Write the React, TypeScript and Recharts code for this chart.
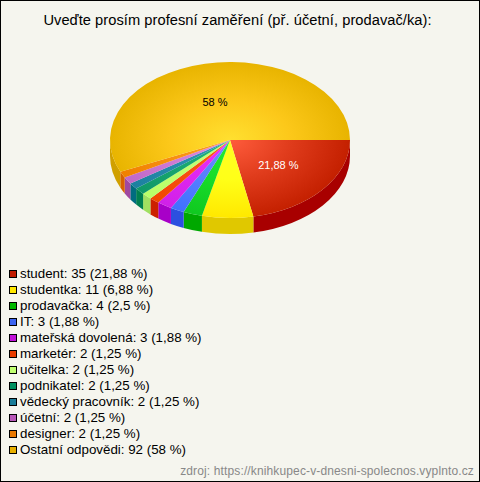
import React from "react";
import { PieChart, Pie, Legend } from "recharts";

const categories = ["student","studentka","prodavačka","IT","mateřská dovolená","marketér","učitelka","podnikatel","vědecký pracovník","účetní","designer","Ostatní odpovědi"];
const counts = [35,11,4,3,3,2,2,2,2,2,2,92];
const percentLabels = ["21,88","6,88","2,5","1,88","1,88","1,25","1,25","1,25","1,25","1,25","1,25","58"];
const sliceShares = [21.88,6.88,2.55,1.88,2.0,1.35,1.35,1.4,1.3,1.45,1.3,56.66];
const swatchColors = ["#c21c00","#ffe800","#00b800","#3c64f0","#c010d8","#e83c00","#c0ff70","#009060","#1a7c98","#b858b8","#e87800","#e8b000"];
const innerColors = ["#ff5c3c","#ffff24","#22ee33","#6a90ff","#f030f8","#ff5a14","#c8ff78","#22b878","#3498b8","#e090e0","#ffa020","#ffe030"];
const midColors = ["#e03c1c","#ffff18","#18dc2a","#5880ff","#e028f0","#f85010","#c0ff70","#18a870","#288cac","#d07cd4","#f89010","#fcc81a"];
const outerColors = ["#c42000","#ffe800","#10c820","#4070ff","#d020e8","#f04800","#b8ff68","#109868","#1c80a0","#c068c8","#f08000","#e8b400"];
const sideColors = ["#a80000","#e0c800","#00a800","#2c50e0","#a800c8","#cc2000","#a0e060","#008050","#006c80","#a048a0","#d86000","#d0a000"];

const rows = categories.map((name, i) => ({
  name, count: counts[i], share: sliceShares[i], percentLabel: percentLabels[i],
  fill: swatchColors[i], inner: innerColors[i], mid: midColors[i], outer: outerColors[i], side: sideColors[i],
}));

const RY_RATIO = 78 / 120;
const DEPTH = 16;
const FONT = "'Liberation Sans', Arial, sans-serif";

const pt = (cx: number, cy: number, r: number, deg: number) => {
  const a = (-deg * Math.PI) / 180;
  return [cx + r * Math.cos(a), cy + r * RY_RATIO * Math.sin(a)];
};

function TopSector(p: any) {
  const { cx, cy, outerRadius: r, startAngle, endAngle, index, payload } = p;
  const [x0, y0] = pt(cx, cy, r, startAngle);
  const [x1, y1] = pt(cx, cy, r, endAngle);
  const large = Math.abs(endAngle - startAngle) > 180 ? 1 : 0;
  const id = `top-${index}`;
  const inner = payload?.inner ?? p.inner;
  const mid = payload?.mid ?? p.mid;
  const outer = payload?.outer ?? p.outer;
  return (
    <g>
      <defs>
        <radialGradient id={id} gradientUnits="userSpaceOnUse" cx={0} cy={0} r={1}
          gradientTransform={`translate(${cx} ${cy}) scale(${r} ${r * RY_RATIO})`}>
          <stop offset="0" stopColor={inner} />
          <stop offset="0.5" stopColor={mid} />
          <stop offset="1" stopColor={outer} />
        </radialGradient>
      </defs>
      <path d={`M${cx} ${cy}L${x0} ${y0}A${r} ${r * RY_RATIO} 0 ${large} 1 ${x1} ${y1}Z`} fill={`url(#${id})`} />
    </g>
  );
}

function SideSector(p: any) {
  const { cx, cy, outerRadius: r, startAngle, endAngle, payload } = p;
  const a0 = Math.min(-startAngle, -endAngle);
  const a1 = Math.max(-startAngle, -endAngle);
  const from = Math.max(a0, 0);
  const to = Math.min(a1, 180);
  if (to <= from) return <g />;
  const [x0, y0] = pt(cx, cy, r, -from);
  const [x1, y1] = pt(cx, cy, r, -to);
  const ry = r * RY_RATIO;
  const side = payload?.side ?? p.side;
  return (
    <path
      d={`M${x0} ${y0}A${r} ${ry} 0 0 1 ${x1} ${y1}L${x1} ${y1 + DEPTH}A${r} ${ry} 0 0 0 ${x0} ${y0 + DEPTH}Z`}
      fill={side}
    />
  );
}

function sliceLabel(p: any) {
  const { cx, cy, outerRadius: r, midAngle, index } = p;
  if (index !== 0 && index !== rows.length - 1) return <g />;
  const [x, y] = pt(cx, cy, r * 0.5, midAngle);
  return (
    <text x={x + (index === 0 ? 2 : -2.5)} y={y} textAnchor="middle" dominantBaseline="central" fontFamily={FONT} fontSize={11}
      fill={index === 0 ? "#ffffff" : "#000000"}>
      {rows[index].percentLabel} %
    </text>
  );
}

function LegendList(props: any) {
  const seen = new Set<string>();
  const items = (props.payload ?? [])
    .filter((e: any) => {
      if (seen.has(e.value)) return false;
      seen.add(e.value);
      return true;
    })
    .sort((a: any, b: any) => categories.indexOf(a.value) - categories.indexOf(b.value));
  return (
    <div style={{ fontFamily: FONT, fontSize: 13.33, color: "#000", textAlign: "left" }}>
      {items.map((e: any) => (
        <div key={e.value} style={{ height: 16, lineHeight: "16px", display: "flex", alignItems: "center", whiteSpace: "nowrap" }}>
          <span style={{ width: 6, height: 6, border: "1px solid #000", background: e.payload?.fill ?? e.color, marginLeft: 1, marginRight: 3, flex: "none" }} />
          <span>{e.value}: {e.payload?.count} ({e.payload?.percentLabel} %)</span>
        </div>
      ))}
    </div>
  );
}

export default function App() {
  return (
    <div style={{ position: "absolute", left: 0, top: 0, width: 480, height: 482, boxSizing: "border-box", border: "1px solid #000", background: "#f5f5ee", overflow: "hidden" }}>
      <div style={{ position: "absolute", left: -1, top: -1 }}>
        <PieChart width={480} height={482} margin={{ top: 0, right: 0, bottom: 0, left: 0 }}>
          <text x={237.5} y={25} textAnchor="middle" fontFamily={FONT} fontSize={14.67} letterSpacing={0.05} fill="#000">
            Uveďte prosím profesní zaměření (př. účetní, prodavač/ka):
          </text>
          <Pie data={rows} dataKey="share" nameKey="name" cx={230} cy={140} outerRadius={120} startAngle={0} endAngle={-360}
            paddingAngle={0} stroke="none" legendType="none" shape={SideSector} isAnimationActive={false} />
          <Pie data={rows} dataKey="share" nameKey="name" cx={230} cy={140} outerRadius={120} startAngle={0} endAngle={-360}
            paddingAngle={0} stroke="none" shape={TopSector} label={sliceLabel} labelLine={false} isAnimationActive={false} />
          <Legend content={LegendList} layout="horizontal" verticalAlign="bottom" align="left" itemSorter={null}
            wrapperStyle={{ position: "absolute", left: 8, top: 266, bottom: "auto", width: 300 }} />
          <text x={474} y={475} textAnchor="end" fontFamily={FONT} fontSize={12} letterSpacing={0.13} fill="#888888">
            zdroj: https://knihkupec-v-dnesni-spolecnos.vyplnto.cz
          </text>
        </PieChart>
      </div>
    </div>
  );
}
